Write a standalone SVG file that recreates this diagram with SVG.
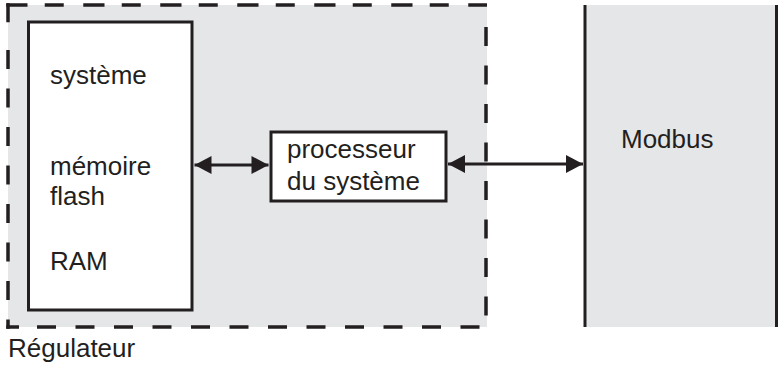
<svg xmlns="http://www.w3.org/2000/svg" width="779" height="367" viewBox="0 0 779 367">
  <style>
    .t { font-family: "Liberation Sans", Arial, Helvetica, sans-serif; font-size: 26px; fill: #231f20; }
    .dash { stroke: #231f20; stroke-width: 3.5; fill: none; stroke-dasharray: 19 19.5; }
    .solid { stroke: #231f20; stroke-width: 3; }
    .conn { stroke: #231f20; stroke-width: 3; fill: none; marker-start: url(#ah); marker-end: url(#ah); }
  </style>
  <defs>
    <marker id="ah" markerUnits="userSpaceOnUse" markerWidth="18" markerHeight="18" viewBox="0 0 17 18" refX="17" refY="9" orient="auto-start-reverse">
      <path d="M0,0 L17,9 L0,18 z" fill="#231f20"/>
    </marker>
  </defs>
  <rect width="779" height="367" fill="#ffffff"/>

  <g id="regulateur">
    <rect x="8" y="5" width="479" height="322" fill="#e5e6e8"/>
    <line class="dash" x1="6.25" y1="5" x2="487" y2="5" style="stroke-dasharray:21.25 17.25 19 19.5"/>
    <line class="dash" x1="8" y1="3.25" x2="8" y2="28"/>
    <line class="dash" x1="8" y1="50" x2="8" y2="328.75"/>
    <line class="dash" x1="6.25" y1="327" x2="19" y2="327"/>
    <line class="dash" x1="37" y1="327" x2="481" y2="327"/>
    <line class="dash" x1="486" y1="27" x2="486" y2="318"/>
    <text class="t" x="8" y="357">Régulateur</text>
  </g>

  <g id="memoire">
    <rect class="solid" x="28.5" y="22" width="163.5" height="288" fill="#ffffff"/>
    <text class="t" x="50" y="84">système</text>
    <text class="t" x="50" y="175">mémoire</text>
    <text class="t" x="50" y="205">flash</text>
    <text class="t" x="50" y="270">RAM</text>
  </g>

  <g id="processeur">
    <rect class="solid" x="271" y="132" width="175" height="69" fill="#ffffff"/>
    <text class="t" x="287" y="158">processeur</text>
    <text class="t" x="287" y="190">du système</text>
  </g>

  <g id="modbus">
    <rect x="585" y="5" width="191" height="322" fill="#e5e6e8"/>
    <line class="solid" x1="585" y1="5" x2="585" y2="327"/>
    <line class="solid" x1="776.5" y1="5" x2="776.5" y2="327"/>
    <text class="t" x="621" y="148">Modbus</text>
  </g>

  <g id="connectors">
    <line class="conn" x1="194.5" y1="165" x2="268.5" y2="165"/>
    <line class="conn" x1="448" y1="164" x2="583" y2="164"/>
  </g>
</svg>
